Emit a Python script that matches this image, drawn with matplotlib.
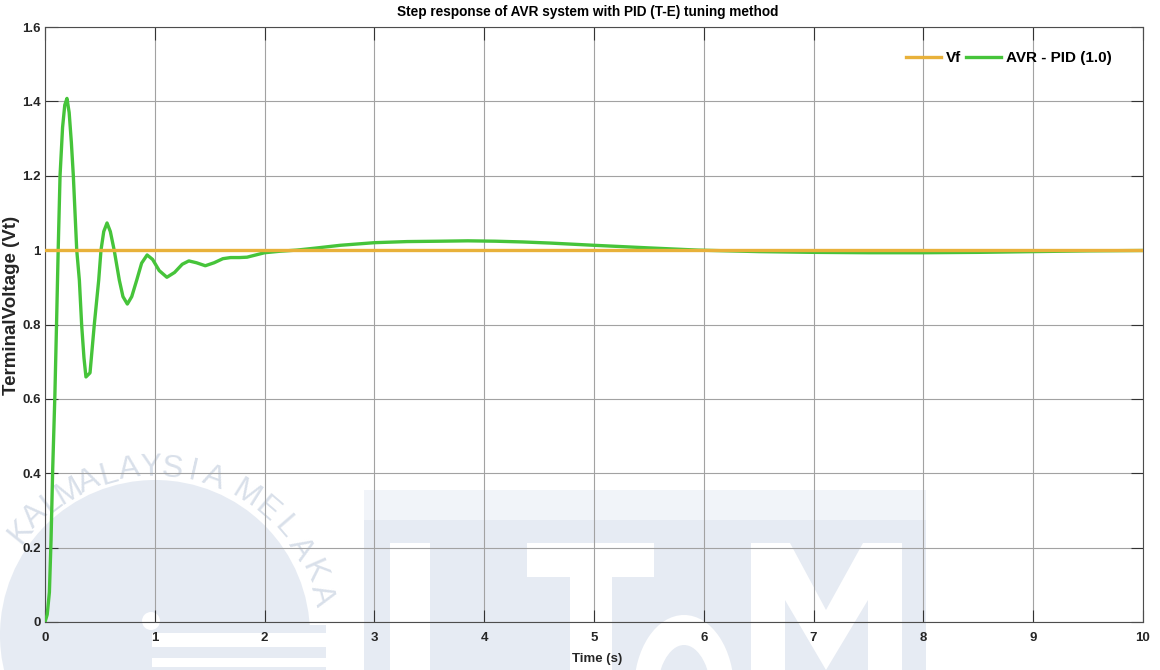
import numpy as np
import matplotlib
matplotlib.use("Agg")
import matplotlib.pyplot as plt
from matplotlib.patches import Circle, Rectangle, Polygon, Ellipse

# step response of the AVR loop with the PID (T-E) gains
t_pid = [0, 0.02, 0.04, 0.055, 0.07, 0.09, 0.105, 0.12, 0.137, 0.16, 0.18, 0.2,
         0.22, 0.24, 0.258, 0.289, 0.313, 0.334, 0.355, 0.373, 0.41, 0.449, 0.489,
         0.51, 0.535, 0.565, 0.595, 0.63, 0.677, 0.71, 0.75, 0.79, 0.835, 0.88,
         0.93, 0.98, 1.04, 1.11, 1.18, 1.25, 1.31, 1.38, 1.46, 1.54, 1.62, 1.69,
         1.77, 1.84, 1.92, 2.0, 2.14, 2.29, 2.45, 2.69, 3.0, 3.3, 3.6, 3.85, 4.1,
         4.35, 4.6, 5.0, 5.5, 5.95, 6.5, 7.0, 7.5, 8.0, 8.5, 9.0, 9.5, 10.0]
v_pid = [0, 0.02, 0.08, 0.22, 0.41, 0.61, 0.80, 1.0, 1.2, 1.33, 1.39, 1.408,
         1.37, 1.29, 1.2, 1.0, 0.919, 0.798, 0.71, 0.659, 0.67, 0.80, 0.919,
         1.0, 1.05, 1.073, 1.05, 1.0, 0.919, 0.875, 0.855, 0.875, 0.919, 0.965,
         0.987, 0.975, 0.945, 0.927, 0.94, 0.962, 0.971, 0.966, 0.958, 0.966,
         0.977, 0.980, 0.980, 0.981, 0.987, 0.993, 0.997, 1.0, 1.005, 1.013,
         1.020, 1.023, 1.024, 1.025, 1.024, 1.022, 1.019, 1.013, 1.006, 1.0,
         0.996, 0.994, 0.993, 0.993, 0.994, 0.996, 0.998, 0.999]

# reference voltage
t_ref = [0, 10]
v_ref = [1, 1]

x_ticks = [0, 1, 2, 3, 4, 5, 6, 7, 8, 9, 10]
y_ticks = [0, 0.2, 0.4, 0.6, 0.8, 1, 1.2, 1.4, 1.6]
y_ticklabels = ['0', '0.2', '0.4', '0.6', '0.8', '1', '1.2', '1.4', '1.6']

FONT = ['Liberation Sans', 'DejaVu Sans']
TXT = '#262626'

W, H = 1160, 670
fig = plt.figure(figsize=(W / 100, H / 100), dpi=100)
fig.patch.set_facecolor('white')

# faded university logo behind the plot (pixel coordinates)
bg = fig.add_axes([0, 0, 1, 1], zorder=0)
bg.set_xlim(0, W)
bg.set_ylim(H, 0)
bg.axis('off')
wm = '#e6ebf3'
wm_light = '#f1f4f9'
wm_text = '#d9e0ea'

bg.add_patch(Circle((155, 635), 155, color=wm, lw=0))
bg.add_patch(Rectangle((150, 625), 176, 45, color=wm, lw=0))
bg.add_patch(Rectangle((152, 633), 174, 14, color='white', lw=0))
bg.add_patch(Rectangle((152, 658), 174, 9, color='white', lw=0))
bg.add_patch(Circle((151, 621), 9, color='white', lw=0))

bg.add_patch(Rectangle((364, 490), 562, 30, color=wm_light, lw=0))
bg.add_patch(Rectangle((364, 520), 562, 150, color=wm, lw=0))
# letters cut out in white
bg.add_patch(Rectangle((390, 543), 40, 127, color='white', lw=0))
bg.add_patch(Rectangle((527, 543), 127, 34, color='white', lw=0))
bg.add_patch(Rectangle((570, 577), 42, 93, color='white', lw=0))
bg.add_patch(Ellipse((684, 690), 100, 150, color='white', lw=0))
bg.add_patch(Ellipse((684, 700), 56, 110, color=wm, lw=0))
bg.add_patch(Polygon([(751, 543), (902, 543), (902, 670), (751, 670)],
                     color='white', lw=0))
bg.add_patch(Polygon([(790, 543), (863, 543), (826, 610)], color=wm, lw=0))
bg.add_patch(Polygon([(785, 600), (826, 670), (785, 670)], color=wm, lw=0))
bg.add_patch(Polygon([(868, 600), (868, 670), (826, 670)], color=wm, lw=0))

# lettering running round the circle
cx, cy, r = 155, 640, 172
words = [('KAL', 141, 127), ('MALAYSIA', 120, 70), ('MELAKA', 58, 15)]
for word, a0, a1 in words:
    angles = np.linspace(a0, a1, len(word))
    for ch, a in zip(word, angles):
        rad = np.deg2rad(a)
        bg.text(cx + r * np.cos(rad), cy - r * np.sin(rad), ch,
                rotation=a - 90, ha='center', va='center', fontsize=23,
                color=wm_text, family=FONT, rotation_mode='anchor')

# main axes
ax = fig.add_axes([45 / W, 48 / H, 1098 / W, 595 / H], zorder=1)
ax.patch.set_alpha(0)

ax.plot(t_pid, v_pid, color='#46c43a', lw=2.4, label='AVR - PID (1.0)',
        zorder=3, solid_joinstyle='round')
ax.plot(t_ref, v_ref, color='#e8b13a', lw=2.4, label='Vf', zorder=4)

ax.set_xlim(0, 10)
ax.set_ylim(0, 1.6)
ax.set_xticks(x_ticks)
ax.set_xticklabels([str(v) for v in x_ticks])
ax.set_yticks(y_ticks)
ax.set_yticklabels(y_ticklabels)

ax.grid(True, color='#a2a2a2', lw=0.8)
for s in ax.spines.values():
    s.set_color('#4d4d4d')
    s.set_linewidth(0.8)
ax.tick_params(which='both', direction='in', length=9, width=0.8,
               top=True, right=True, color='#333333')
ax.tick_params(axis='x', pad=7)
ax.tick_params(axis='y', pad=3)
for lab in ax.get_xticklabels() + ax.get_yticklabels():
    lab.set_family(FONT)
    lab.set_fontweight('bold')
    lab.set_fontsize(9.5)
    lab.set_color(TXT)

fig.text(588 / W, 1 - 12 / H, 'Step response of AVR system with PID (T-E) tuning method',
         ha='center', va='center', fontsize=9.8, fontweight='bold',
         family=FONT, color='black')
fig.text(597 / W, 1 - 659 / H, 'Time (s)', ha='center', va='center',
         fontsize=9.5, fontweight='bold', family=FONT, color=TXT)
fig.text(12 / W, 1 - 305 / H, 'TerminalVoltage (Vt)', ha='center', va='center',
         rotation=90, fontsize=13.5, fontweight='bold', family=FONT, color=TXT)

handles, labels = ax.get_legend_handles_labels()
leg = ax.legend(handles[::-1], labels[::-1], loc='upper right', ncol=2,
                frameon=False, bbox_to_anchor=(0.977, 0.97), borderaxespad=0,
                handlelength=2.3, handletextpad=0.3, columnspacing=0.35,
                prop={'family': FONT, 'weight': 'bold', 'size': 11})

fig.savefig('out.png', dpi=100, facecolor='white')
